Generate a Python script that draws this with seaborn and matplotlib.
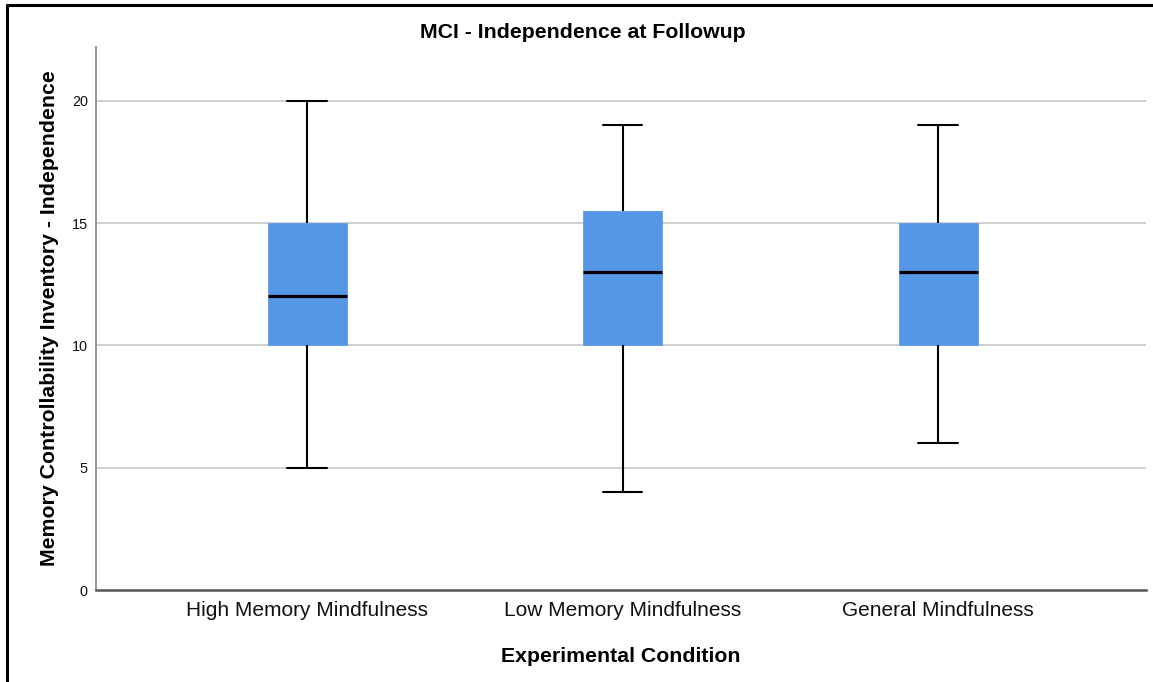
import numpy as np
import pandas as pd
import seaborn as sns
import matplotlib
matplotlib.use("Agg")
import matplotlib.pyplot as plt
from matplotlib.lines import Line2D

# Five-number summaries (min, Q1, median, Q3, max)
conditions = ["High Memory Mindfulness", "Low Memory Mindfulness", "General Mindfulness"]
high_memory = [5, 10, 12, 15, 20]
low_memory = [4, 10, 13, 15.5, 19]
general = [6, 10, 13, 15, 19]
y_ticks = [0, 5, 10, 15, 20]

df = pd.DataFrame({
    "condition": np.repeat(conditions, 5),
    "score": high_memory + low_memory + general,
})

sns.set_theme(style="white")
plt.rcParams["font.family"] = ["Liberation Sans", "DejaVu Sans"]

box_color = "#5596E6"
fig = plt.figure(figsize=(11.53, 6.82), dpi=100)
ax = fig.add_axes([96 / 1153, 92 / 682, 1050 / 1153, 543 / 682])

sns.boxplot(
    data=df, x="condition", y="score", order=conditions, ax=ax,
    color=box_color, saturation=1, width=0.25, whis=(0, 100),
    linecolor="black", linewidth=1.5, fliersize=0,
    boxprops=dict(edgecolor=box_color, linewidth=0.5),
    medianprops=dict(color="black", linewidth=2.3),
    whiskerprops=dict(color="black", linewidth=1.5),
    capprops=dict(color="black", linewidth=1.5),
    zorder=3,
)

ax.set_ylim(0, 22.2)
ax.set_xlim(-0.669, 2.659)
ax.set_yticks(y_ticks)
ax.set_yticklabels([str(t) for t in y_ticks], fontsize=10.4, color="#111111")
ax.tick_params(axis="x", labelsize=15, colors="#111111", length=0, pad=8)
ax.tick_params(axis="y", length=0, pad=6)
for t in y_ticks[1:]:
    ax.axhline(t, color="#CCCCCC", linewidth=1.3, zorder=1)

for s in ["top", "right"]:
    ax.spines[s].set_visible(False)
ax.spines["left"].set_color("#8C8C8C")
ax.spines["left"].set_linewidth(1.3)
ax.spines["bottom"].set_color("#555555")
ax.spines["bottom"].set_linewidth(1.8)

ax.set_xlabel("Experimental Condition", fontsize=15.3, fontweight="bold", labelpad=19,
              color="black")
ax.set_ylabel("Memory Controllability Inventory - Independence", fontsize=15.3,
              fontweight="bold", labelpad=9, color="black")

fig.text(583 / 1153, 1 - 33 / 682, "MCI - Independence at Followup",
         fontsize=15.3, fontweight="bold", ha="center", va="center", color="black")

# outer frame (left and top edges)
fig.add_artist(Line2D([7 / 1153, 7 / 1153], [0, 1 - 5 / 682], transform=fig.transFigure,
                      color="black", linewidth=2.2))
fig.add_artist(Line2D([7 / 1153, 1], [1 - 5 / 682, 1 - 5 / 682], transform=fig.transFigure,
                      color="black", linewidth=2.2))

fig.savefig("out.png", dpi=100)
